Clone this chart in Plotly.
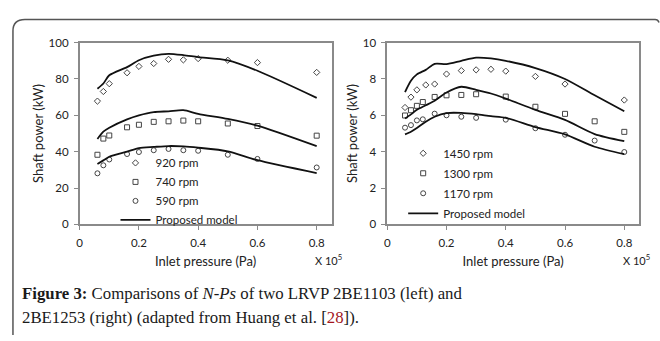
import plotly.graph_objects as go

# ---------------- data (left: LRVP 2BE1103) ----------------
x_left = [0.06, 0.08, 0.10, 0.16, 0.20, 0.25, 0.30, 0.35, 0.40, 0.50, 0.60, 0.80]
p920 = [67.8, 73.1, 77.4, 83.4, 86.9, 88.5, 90.8, 90.5, 91.2, 90.3, 89.0, 83.6]
p740 = [38.3, 47.2, 48.9, 53.4, 54.8, 56.4, 56.7, 57.1, 56.7, 55.5, 54.1, 48.8]
p590 = [28.1, 32.5, 35.7, 38.7, 39.8, 40.8, 41.5, 40.8, 40.5, 38.3, 36.0, 31.3]
m920 = [74.6, 77.5, 82.0, 86.5, 90.3, 92.8, 93.8, 93.1, 92.0, 90.2, 84.5, 69.6]
m740 = [47.0, 51.0, 53.2, 57.8, 60.0, 61.8, 62.2, 62.8, 60.8, 58.0, 54.3, 43.0]
m590 = [33.2, 35.2, 37.2, 40.0, 42.0, 42.6, 43.1, 42.9, 42.2, 40.2, 35.3, 28.2]

# ---------------- data (right: LRVP 2BE1253) ----------------
x_1450 = [0.06, 0.08, 0.10, 0.13, 0.16, 0.20, 0.25, 0.30, 0.35, 0.40, 0.50, 0.60, 0.80]
p1450 = [6.43, 7.0, 7.4, 7.67, 7.72, 8.27, 8.46, 8.5, 8.53, 8.43, 8.14, 7.72, 6.84]
x_low = [0.06, 0.08, 0.10, 0.12, 0.16, 0.20, 0.25, 0.30, 0.40, 0.50, 0.60, 0.70, 0.80]
p1300 = [5.99, 6.28, 6.52, 6.73, 7.01, 7.10, 7.12, 7.16, 7.03, 6.47, 6.08, 5.67, 5.09]
p1170 = [5.32, 5.46, 5.72, 5.78, 6.09, 6.00, 5.92, 5.86, 5.76, 5.29, 4.93, 4.61, 3.98]
x_model_r = [0.06, 0.08, 0.10, 0.13, 0.16, 0.20, 0.25, 0.30, 0.35, 0.40, 0.50, 0.60, 0.70, 0.80]
m1450 = [7.28, 7.9, 8.25, 8.5, 8.83, 8.82, 9.0, 9.17, 9.13, 9.0, 8.6, 8.0, 7.1, 6.22]
m1300 = [5.82, 6.05, 6.3, 6.55, 6.8, 7.25, 7.57, 7.4, 7.2, 6.92, 6.3, 5.75, 4.97, 4.58]
m1170 = [4.95, 5.1, 5.3, 5.65, 5.92, 6.12, 6.13, 6.06, 5.95, 5.86, 5.35, 4.95, 4.27, 3.86]

x_ticks = [0, 0.2, 0.4, 0.6, 0.8]
x_ticktext = ["0", "0.2", "0.4", "0.6", "0.8"]
y_ticks_left = [0, 20, 40, 60, 80, 100]
y_ticks_right = [0, 2, 4, 6, 8, 10]

W, H = 660, 341
def fx(p): return p / W
def fy(p): return 1 - p / H

FONT = "Lato, 'Open Sans', sans-serif"
SIZES = {"diamond-open": 4.8, "square-open": 5, "circle-open": 5}
LN = dict(color="#111", width=1.8, shape="spline", smoothing=0.7)

fig = go.Figure()

def add_set(xs, ys, name, symbol, xa, ya, leg, grp):
    fig.add_trace(go.Scatter(x=xs, y=ys, mode="markers", name=name,
                             marker=dict(symbol=symbol, size=SIZES[symbol], color="#444",
                                         line=dict(color="#444", width=1)),
                             xaxis=xa, yaxis=ya, legend=leg, legendgroup=grp))

def add_line(xs, ys, xa, ya, leg, grp, show):
    fig.add_trace(go.Scatter(x=xs, y=ys, mode="lines", name="Proposed model",
                             line=LN, xaxis=xa, yaxis=ya, legend=leg,
                             legendgroup=grp, showlegend=show))

# left
add_set(x_left, p920, "920 rpm", "diamond-open", "x", "y", "legend", "a1")
add_set(x_left, p740, "740 rpm", "square-open", "x", "y", "legend", "a2")
add_set(x_left, p590, "590 rpm", "circle-open", "x", "y", "legend", "a3")
add_line(x_left, m920, "x", "y", "legend", "a4", True)
add_line(x_left, m740, "x", "y", "legend", "a4", False)
add_line(x_left, m590, "x", "y", "legend", "a4", False)
# right
add_set(x_1450, p1450, "1450 rpm", "diamond-open", "x2", "y2", "legend2", "b1")
add_set(x_low, p1300, "1300 rpm", "square-open", "x2", "y2", "legend2", "b2")
add_set(x_low, p1170, "1170 rpm", "circle-open", "x2", "y2", "legend2", "b3")
add_line(x_model_r, m1450, "x2", "y2", "legend2", "b4", True)
add_line(x_model_r, m1300, "x2", "y2", "legend2", "b4", False)
add_line(x_model_r, m1170, "x2", "y2", "legend2", "b4", False)

axis_common = dict(showline=True, mirror=True, linecolor="#8a8a8a", linewidth=1.5,
                   ticks="outside", ticklen=4, tickcolor="#8a8a8a", tickwidth=1,
                   showgrid=False, zeroline=False, ticklabelstandoff=3,
                   tickfont=dict(family=FONT, size=11.5, color="#222"))
ydom = [fy(226), fy(37)]
TF = dict(family=FONT, size=13, color="#222")

fig.update_layout(
    width=W, height=H, margin=dict(l=0, r=0, t=0, b=0),
    paper_bgcolor="white", plot_bgcolor="white",
    xaxis=dict(domain=[fx(77), fx(330)], range=[0, 0.85], tickvals=x_ticks,
               ticktext=x_ticktext, anchor="y",
               title=dict(text="Inlet pressure (Pa)", standoff=9, font=TF), **axis_common),
    yaxis=dict(domain=ydom, range=[0, 100], tickvals=y_ticks_left, anchor="x",
               title=dict(text="Shaft power (kW)", standoff=2, font=TF), **axis_common),
    xaxis2=dict(domain=[fx(386), fx(639)], range=[0, 0.85], tickvals=x_ticks,
                ticktext=x_ticktext, anchor="y2",
                title=dict(text="Inlet pressure (Pa)", standoff=9, font=TF), **axis_common),
    yaxis2=dict(domain=ydom, range=[0, 10], tickvals=y_ticks_right, anchor="x2",
                title=dict(text="Shaft power (kW)", standoff=2, font=TF), **axis_common),
    legend=dict(x=fx(113), y=fy(147), xanchor="left", yanchor="top",
                bgcolor="rgba(0,0,0,0)", font=dict(family=FONT, size=11.5, color="#222"),
                tracegroupgap=0, itemclick=False),
    legend2=dict(x=fx(402), y=fy(137), xanchor="left", yanchor="top",
                 bgcolor="rgba(0,0,0,0)", font=dict(family=FONT, size=11.5, color="#222"),
                 tracegroupgap=1, itemclick=False),
    showlegend=True,
)

# "X 10^5" labels
for xp in (327, 636):
    fig.add_annotation(x=fx(xp), y=fy(262), xref="paper", yref="paper",
                       text="X 10<sup>5</sup>", showarrow=False,
                       font=dict(family=FONT, size=11, color="#222"),
                       xanchor="center", yanchor="middle")

# caption
CAP = "'Liberation Serif', 'DejaVu Serif', serif"
fig.add_annotation(x=fx(17), y=fy(298), xref="paper", yref="paper", showarrow=False,
                   xanchor="left", yanchor="middle", align="left",
                   text="<b>Figure 3:</b> Comparisons of <i>N-Ps</i> of two LRVP 2BE1103 (left) and",
                   font=dict(family=CAP, size=16.8, color="#1a1a1a"))
fig.add_annotation(x=fx(17), y=fy(323), xref="paper", yref="paper", showarrow=False,
                   xanchor="left", yanchor="middle", align="left",
                   text="2BE1253 (right) (adapted from Huang et al. [<span style='color:#a3161d'>28</span>]).",
                   font=dict(family=CAP, size=16.8, color="#1a1a1a"))

# outer rounded frame
path = (f"M {fx(10)} 0 L {fx(10)} {fy(25)} "
        f"Q {fx(10)} {fy(13)} {fx(22)} {fy(13)} "
        f"L {fx(655)} {fy(13)} Q {fx(658)} {fy(13)} {fx(659)} {fy(16)}")
fig.add_shape(type="path", path=path, xref="paper", yref="paper",
              line=dict(color="#555", width=1.5))

fig.write_html("out.html", config={"displayModeBar": False},
               post_script="document.body.style.margin='0';document.body.style.overflow='hidden';")
